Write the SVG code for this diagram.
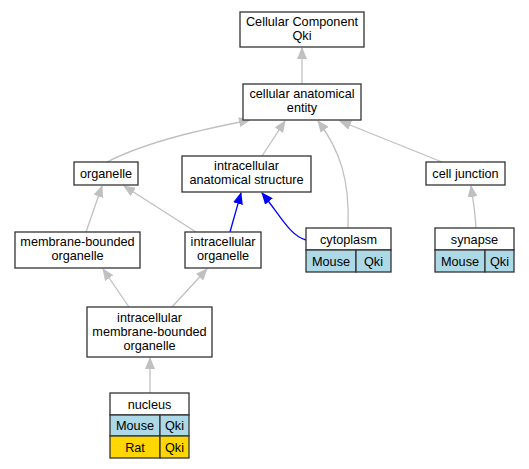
<svg xmlns="http://www.w3.org/2000/svg" width="529" height="469" viewBox="0 0 529 469">
<style>
.n{fill:#fff;stroke:#333;stroke-width:1.3}
.b{fill:#add8e6;stroke:#333;stroke-width:1.3}
.g{fill:#ffd700;stroke:#333;stroke-width:1.3}
text{font-family:"Liberation Sans",Arial,sans-serif;font-size:12.7px;fill:#000;text-anchor:middle}
.e{fill:none;stroke:#c0c0c0;stroke-width:1.3}
.eb{fill:none;stroke:#0000ff;stroke-width:1.3}
</style>
<defs>
<marker id="ag" markerWidth="12" markerHeight="10" refX="11" refY="5" orient="auto" markerUnits="userSpaceOnUse"><path d="M0,0 L12,5 L0,10 Z" fill="#c0c0c0"/></marker>
<marker id="ab" markerWidth="12" markerHeight="10" refX="11" refY="5" orient="auto" markerUnits="userSpaceOnUse"><path d="M0,0 L12,5 L0,10 Z" fill="#0000ff"/></marker>
</defs>
<rect width="529" height="469" fill="#fff"/>
<g id="edges">
<path class="e" d="M302,84 L302,48" marker-end="url(#ag)"/>
<path class="e" d="M107,162 C150,140 210,128 250,120" marker-end="url(#ag)"/>
<path class="e" d="M262,156 L285,121" marker-end="url(#ag)"/>
<path class="e" d="M348,228 C350,180 340,150 318,121" marker-end="url(#ag)"/>
<path class="e" d="M442,162 L340,121" marker-end="url(#ag)"/>
<path class="e" d="M86,232 L102,186" marker-end="url(#ag)"/>
<path class="e" d="M196,232 L124,186" marker-end="url(#ag)"/>
<path class="eb" d="M230,232 L241,193" marker-end="url(#ab)"/>
<path class="eb" d="M306,240 C290,236 280,215 262,193" marker-end="url(#ab)"/>
<path class="e" d="M476,228 C475,210 473,200 471,186" marker-end="url(#ag)"/>
<path class="e" d="M129,307 L103,269" marker-end="url(#ag)"/>
<path class="e" d="M172,307 L207,269" marker-end="url(#ag)"/>
<path class="e" d="M150,393 L150,358" marker-end="url(#ag)"/>
</g>
<g id="cc">
<rect class="n" x="240" y="12" width="124" height="35"/>
<text x="302" y="26">Cellular Component</text>
<text x="302" y="40">Qki</text>
</g>
<g id="cae">
<rect class="n" x="243" y="84" width="118" height="36"/>
<text x="302" y="98">cellular anatomical</text>
<text x="302" y="112">entity</text>
</g>
<g id="organelle">
<rect class="n" x="74" y="162" width="64" height="23"/>
<text x="106" y="178">organelle</text>
</g>
<g id="ias">
<rect class="n" x="182" y="156" width="129" height="36"/>
<text x="246.5" y="170">intracellular</text>
<text x="246.5" y="184">anatomical structure</text>
</g>
<g id="celljunction">
<rect class="n" x="426" y="162" width="79" height="23"/>
<text x="465.5" y="178">cell junction</text>
</g>
<g id="mbo">
<rect class="n" x="15" y="232" width="125" height="36"/>
<text x="77.5" y="246">membrane-bounded</text>
<text x="77.5" y="260">organelle</text>
</g>
<g id="io">
<rect class="n" x="185" y="232" width="76" height="36"/>
<text x="223" y="246">intracellular</text>
<text x="223" y="260">organelle</text>
</g>
<g id="cytoplasm">
<rect class="n" x="306" y="228" width="85" height="22"/>
<rect class="b" x="306" y="250" width="50" height="22"/>
<rect class="b" x="356" y="250" width="35" height="22"/>
<text x="348.5" y="243.5">cytoplasm</text>
<text x="331" y="265.5">Mouse</text>
<text x="373.5" y="265.5">Qki</text>
</g>
<g id="synapse">
<rect class="n" x="435" y="228" width="79" height="22"/>
<rect class="b" x="435" y="250" width="50" height="22"/>
<rect class="b" x="485" y="250" width="29" height="22"/>
<text x="474.5" y="243.5">synapse</text>
<text x="460" y="265.5">Mouse</text>
<text x="499.5" y="265.5">Qki</text>
</g>
<g id="imbo">
<rect class="n" x="87" y="307" width="125" height="50"/>
<text x="149.5" y="322">intracellular</text>
<text x="149.5" y="336">membrane-bounded</text>
<text x="149.5" y="350">organelle</text>
</g>
<g id="nucleus">
<rect class="n" x="110" y="393" width="79" height="22"/>
<rect class="b" x="110" y="415" width="50" height="21"/>
<rect class="b" x="160" y="415" width="29" height="21"/>
<rect class="g" x="110" y="436" width="50" height="22"/>
<rect class="g" x="160" y="436" width="29" height="22"/>
<text x="149.5" y="408.5">nucleus</text>
<text x="135" y="430">Mouse</text>
<text x="174.5" y="430">Qki</text>
<text x="135" y="451.5">Rat</text>
<text x="174.5" y="451.5">Qki</text>
</g>
</svg>
